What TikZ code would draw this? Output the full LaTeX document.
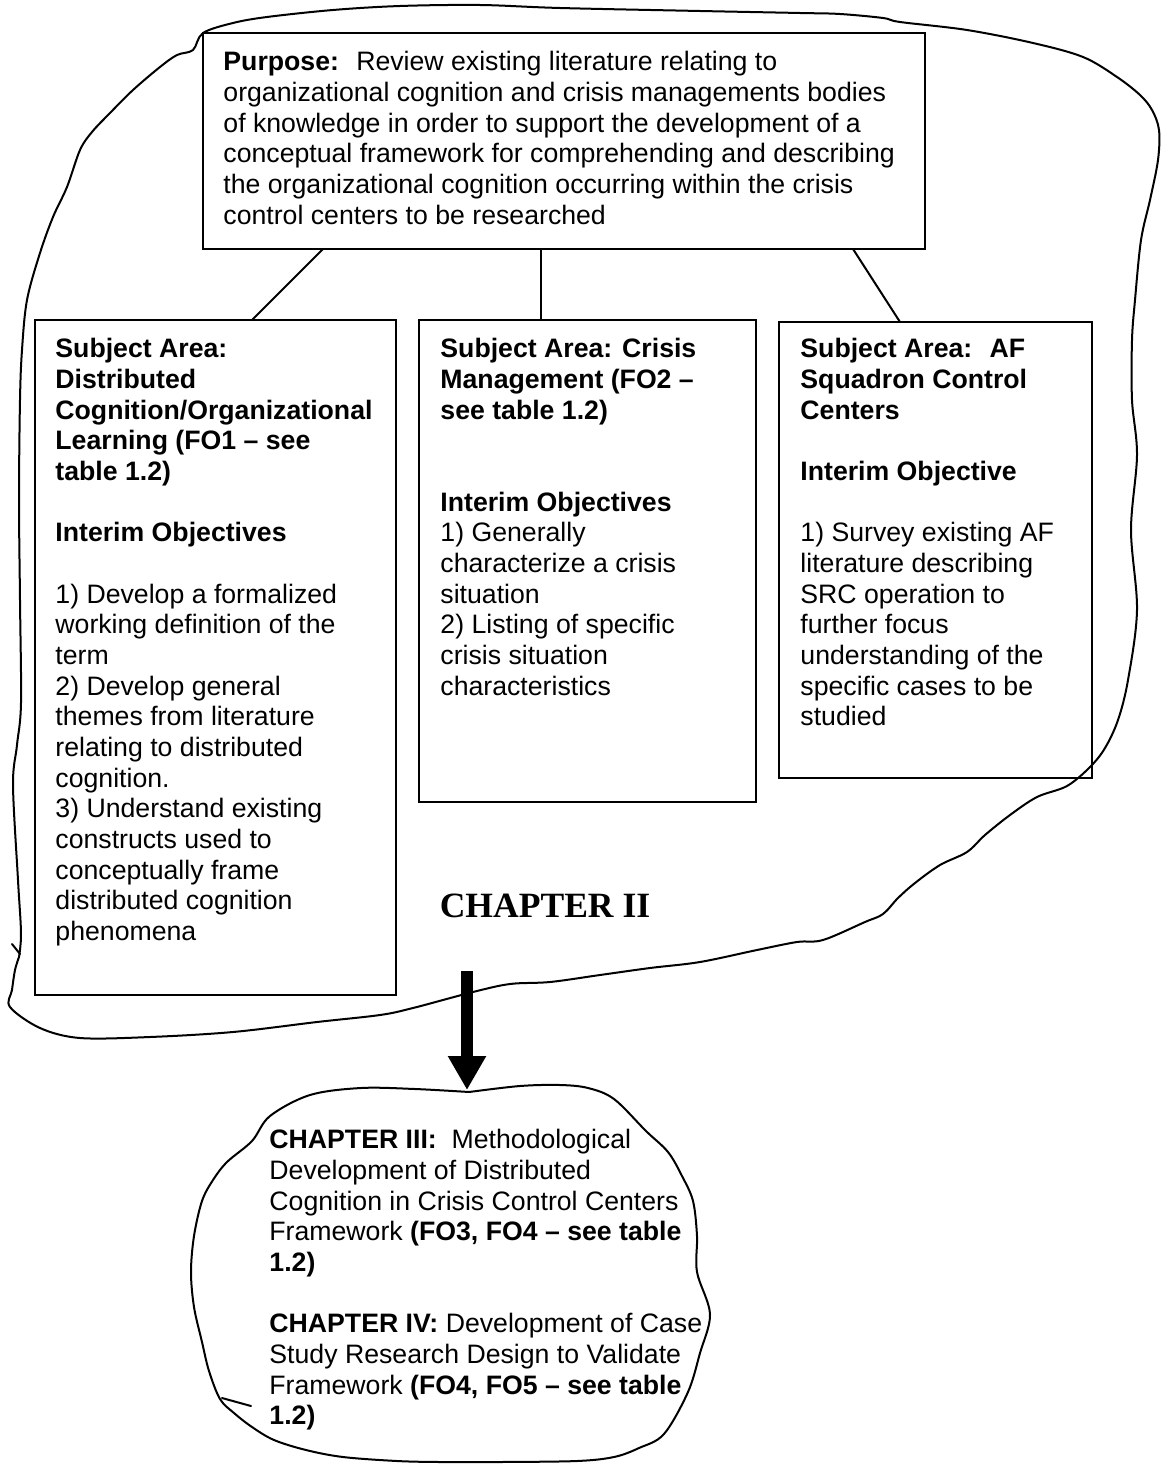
\documentclass[tikz,border=0pt]{standalone}
\usepackage{fontspec}
\setmainfont{Liberation Sans}
\newfontfamily\chapfont{Liberation Serif}
\usetikzlibrary{arrows.meta,calc}
% strut fixing the height of every first text line
\newcommand\firststrut{\rule{0pt}{10pt}}
\begin{document}
\begin{tikzpicture}[x=0.45pt,y=-0.45pt,
  box/.style={draw,line width=1.1pt,anchor=north west,inner sep=0pt,outer sep=0pt},
  txt/.style={anchor=north west,inner sep=0pt,align=left,
    font=\fontsize{12pt}{13.8pt}\selectfont},
  link/.style={line width=0.9pt},
  sketch/.style={line width=0.9pt,line join=round,line cap=round}]
\useasboundingbox (0,0) rectangle (1162,1466);

% boxes
\node[box,minimum width=324.9pt,minimum height=97.2pt] (purpose) at (203,33) {};
\node[box,minimum width=162.45pt,minimum height=303.75pt] (sa1) at (35,320) {};
\node[box,minimum width=151.65pt,minimum height=216.9pt] (sa2) at (419,320) {};
\node[box,minimum width=140.85pt,minimum height=205.2pt] (sa3) at (779,322) {};

% box texts
\node[txt] (purposetxt) at (223,48) {\firststrut\textbf{Purpose:}~ Review existing literature relating to\\
organizational cognition and crisis managements bodies\\
of knowledge in order to support the development of a\\
conceptual framework for comprehending and describing\\
the organizational cognition occurring within the crisis\\
control centers to be researched};

\node[txt] (sa1txt) at (55,335) {\firststrut\textbf{Subject Area:}\\
\textbf{Distributed}\\
\textbf{Cognition/Organizational}\\
\textbf{Learning (FO1 – see}\\
\textbf{table 1.2)}\\[13.8pt]
\textbf{Interim Objectives}\\[13.8pt]
1) Develop a formalized\\
working definition of the\\
term\\
2) Develop general\\
themes from literature\\
relating to distributed\\
cognition.\\
3) Understand existing\\
constructs used to\\
conceptually frame\\
distributed cognition\\
phenomena};

\node[txt] (sa2txt) at (440,335) {\firststrut\textbf{Subject Area: Crisis}\\
\textbf{Management (FO2 –}\\
\textbf{see table 1.2)}\\[27.6pt]
\textbf{Interim Objectives}\\
1) Generally\\
characterize a crisis\\
situation\\
2) Listing of specific\\
crisis situation\\
characteristics};

\node[txt] (sa3txt) at (800,335) {\firststrut\textbf{Subject Area:~ AF}\\
\textbf{Squadron Control}\\
\textbf{Centers}\\[13.8pt]
\textbf{Interim Objective}\\[13.8pt]
1) Survey existing AF\\
literature describing\\
SRC operation to\\
further focus\\
understanding of the\\
specific cases to be\\
studied};

% connectors from the purpose box to the subject areas
\draw[link] ($(purpose.south west)+(120,0)$) -- ($(sa1.north west)+(217,0)$);
\draw[link] ($(purpose.south west)+(338,0)$) -- ($(sa2.north west)+(122,0)$);
\draw[link] ($(purpose.south west)+(650,0)$) -- ($(sa3.north west)+(121,0)$);

% chapter label
\node[anchor=base,inner sep=0pt,font=\chapfont\bfseries\fontsize{16pt}{18pt}\selectfont] (ch2) at (545,917) {CHAPTER II};

% outline around chapter II
\draw[sketch] plot[smooth,tension=0.55] coordinates {(19,957) (21,933) (18,880) (13,785) (17,745) (21,703) (20,600) (19,500) (20,400) (22,350) (27,300) (40,253) (53,217) (67,187) (80,150) (92,132) (110,113) (133,90) (160,67) (177,55) (193,50) (203,33) (233,23) (267,17) (333,10) (400,6) (480,5) (560,8) (700,11) (800,13) (840,14) (883,18) (900,22) (967,30) (1033,43) (1083,57) (1117,77) (1140,95) (1152,110) (1159,130) (1158,160) (1150,200) (1141,240) (1135,300) (1132,340) (1132,400) (1137,455) (1131,530) (1137,610) (1128,680) (1118,720) (1105,748) (1090,767) (1067,786) (1037,797) (1010,815) (985,835) (967,852) (940,865) (915,883) (898,898) (883,914) (865,922) (823,940) (797,942) (757,950) (700,962) (650,968) (600,975) (550,982) (510,984) (473,992) (413,1008) (380,1015) (317,1022) (233,1032) (150,1037) (80,1038) (40,1028) (10,1007) (12,990) (15,970) (19,957)};
\draw[sketch] (12,944) -- (20,954);

% arrow down to the next chapters
\coordinate (arrtop) at (467,971);
\coordinate (arrtip) at (467,1090);
\draw[line width=5.4pt,-{Triangle[width=16.2pt,length=15.3pt]}] (arrtop) -- (arrtip);

% next chapters
\node[txt] (nexttxt) at (269,1126) {\firststrut\textbf{CHAPTER III:}~ Methodological\\
Development of Distributed\\
Cognition in Crisis Control Centers\\
Framework \textbf{(FO3, FO4 – see table}\\
\textbf{1.2)}\\[13.8pt]
\textbf{CHAPTER IV:} Development of Case\\
Study Research Design to Validate\\
Framework \textbf{(FO4, FO5 – see table}\\
\textbf{1.2)}};

% outline around the next chapters
\draw[sketch] plot[smooth,tension=0.55] coordinates {(469,1092) (520,1086) (560,1085) (588,1088) (614,1099) (646,1131) (668,1152) (682,1176) (693,1201) (697,1236) (697,1272) (710,1314) (700,1353) (688,1392) (664,1434) (639,1448) (614,1457) (577,1461) (500,1462) (440,1462) (397,1461) (343,1457) (306,1450) (274,1440) (252,1427) (234,1413) (220,1399) (209,1371) (202,1342) (194,1307) (191,1272) (194,1236) (202,1201) (213,1180) (227,1162) (252,1141) (270,1116) (310,1095) (361,1088) (415,1089) (469,1092)};
\draw[sketch] (222,1398) -- (251,1406);
\end{tikzpicture}
\end{document}
